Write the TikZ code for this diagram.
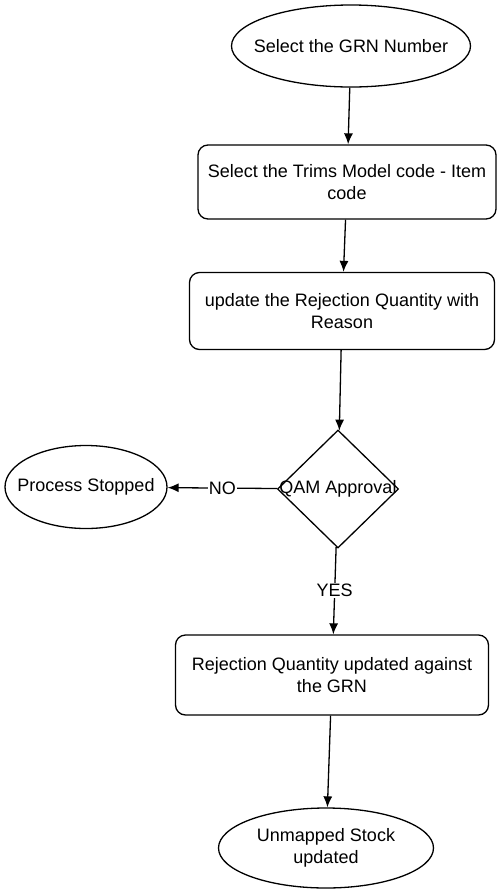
\documentclass[tikz,border=0pt]{standalone}
\usepackage{fontspec}
\setmainfont{Liberation Sans}
\usetikzlibrary{arrows.meta,shapes.geometric}
\newcommand{\boxfont}{\fontsize{18}{22}\selectfont}

\begin{document}
\begin{tikzpicture}[x=1pt,y=-1pt]
\tikzstyle{terminal} = [draw,shape=ellipse,line width=1.3pt,inner xsep=-45pt,inner ysep=-20pt,font=\boxfont,align=center]
\tikzstyle{process} = [draw,shape=rectangle,rounded corners=10pt,line width=1.3pt,inner sep=0pt,font=\boxfont,align=center]
\tikzstyle{decision} = [draw,shape=diamond,line width=1.3pt,inner sep=0pt,minimum width=121pt,minimum height=118pt]
\tikzstyle{flow} = [draw,line width=1.3pt,-{Latex[length=11pt,width=9pt]}]
\tikzstyle{elabel} = [fill=white,inner sep=1pt,font=\boxfont]

\useasboundingbox[fill=white] (0,0) rectangle (497,895);

\node[terminal,minimum width=239pt,minimum height=82pt] (grn) at (351,46) {Select the GRN Number};
\node[process,minimum width=298pt,minimum height=74pt] (trims) at (347,182) {Select the Trims Model code - Item\\code};
\node[process,minimum width=305pt,minimum height=77pt] (reason) at (342,311) {update the Rejection Quantity with\\Reason};
\node[decision,label={[font=\boxfont]center:QAM Approval}] (qam) at (338,489) {};
\node[terminal,minimum width=162pt,minimum height=83pt] (stop) at (86,487) {Process Stopped};
\node[process,minimum width=313pt,minimum height=80pt] (rej) at (332,675) {Rejection Quantity updated against\\the GRN};
\node[terminal,minimum width=215pt,minimum height=80pt] (stock) at (326,848) {Unmapped Stock\\updated};

\draw[flow] (grn) -- (trims);
\draw[flow] (trims) -- (reason);
\draw[flow] (reason) -- (qam);
\draw[flow] (qam) -- node[elabel] {NO} (stop);
\draw[flow] (qam) -- node[elabel] {YES} (rej);
\draw[flow] (rej) -- (stock);
\end{tikzpicture}
\end{document}
